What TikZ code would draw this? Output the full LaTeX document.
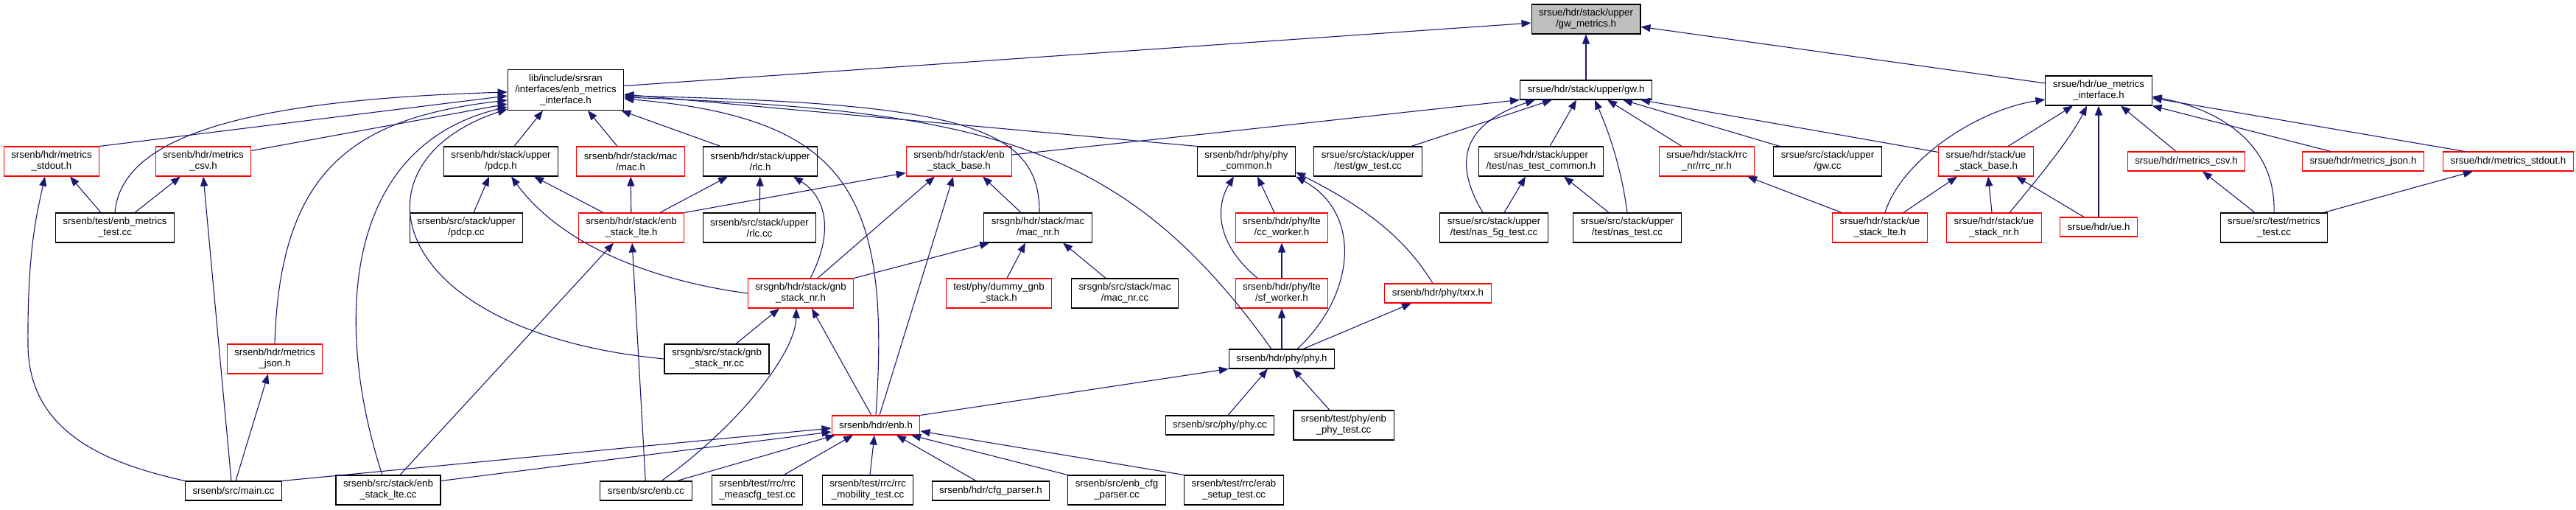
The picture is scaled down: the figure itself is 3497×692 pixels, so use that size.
\documentclass[tikz,border=0pt]{standalone}
\usepackage{fontspec}
\setmainfont{Liberation Sans}
\usetikzlibrary{arrows.meta,calc}
\definecolor{edgeblue}{RGB}{25,25,112}
\definecolor{rootgray}{RGB}{191,191,191}

\begin{document}
\begin{tikzpicture}[
      x=1pt,y=-1pt,
      box/.style={draw=black,line width=1.1pt,fill=white,align=center,inner xsep=10pt,inner ysep=2pt,minimum height=40pt,font=\fontsize{13.3}{15}\selectfont},
      redbox/.style={box,draw=red},
      rootbox/.style={box,fill=rootgray},
      one/.style={minimum height=26pt},
      arrow/.style={-{Triangle[length=13pt,width=10pt]},line width=1.1pt,draw=edgeblue}
    ]
      \useasboundingbox (0,0) rectangle (3497,692);
      % top rows
      \node[rootbox] (gwmetrics) at (2153,26) {srsue/hdr/stack/upper\\/gw\_metrics.h};
      \node[box,minimum height=55pt] (enbif) at (768,122) {lib/include/srsran\hfill\\/interfaces/enb\_metrics\\\_interface.h};
      \node[box,one] (gwh) at (2153,122) {srsue/hdr/stack/upper/gw.h};
      \node[box] (ueif) at (2849,123) {srsue/hdr/ue\_metrics\\\_interface.h};
      % row 3
      \node[redbox] (enbstdout) at (70,219) {srsenb/hdr/metrics\\\_stdout.h};
      \node[redbox] (enbcsv) at (276,219) {srsenb/hdr/metrics\\\_csv.h};
      \node[box] (pdcph) at (680,219) {srsenb/hdr/stack/upper\\/pdcp.h};
      \node[redbox] (mach) at (856,219) {srsenb/hdr/stack/mac\\/mac.h};
      \node[box] (rlch) at (1032,219) {srsenb/hdr/stack/upper\\/rlc.h};
      \node[redbox] (enbbase) at (1302,219) {srsenb/hdr/stack/enb\\\_stack\_base.h};
      \node[box] (phycommon) at (1692,219) {srsenb/hdr/phy/phy\\\_common.h};
      \node[box] (gwtest) at (1857,219) {srsue/src/stack/upper\\/test/gw\_test.cc};
      \node[box] (nascommon) at (2092,219) {srsue/hdr/stack/upper\hfill\\/test/nas\_test\_common.h};
      \node[redbox] (rrcnr) at (2317,219) {srsue/hdr/stack/rrc\\\_nr/rrc\_nr.h};
      \node[box] (gwcc) at (2481,219) {srsue/src/stack/upper\\/gw.cc};
      \node[redbox] (uebase) at (2696,219) {srsue/hdr/stack/ue\\\_stack\_base.h};
      \node[redbox,one] (uecsv) at (2968,219) {srsue/hdr/metrics\_csv.h};
      \node[redbox,one] (uejson) at (3208,219) {srsue/hdr/metrics\_json.h};
      \node[redbox,one] (uestdout) at (3405,219) {srsue/hdr/metrics\_stdout.h};
      % row 4
      \node[box] (enbmetricstest) at (156,309) {srsenb/test/enb\_metrics\\\_test.cc};
      \node[box] (pdcpcc) at (633,309) {srsenb/src/stack/upper\\/pdcp.cc};
      \node[redbox] (enblteh) at (857,309) {srsenb/hdr/stack/enb\\\_stack\_lte.h};
      \node[box] (rlccc) at (1031,309) {srsenb/src/stack/upper\\/rlc.cc};
      \node[box] (macnrh) at (1409,309) {srsgnb/hdr/stack/mac\\/mac\_nr.h};
      \node[redbox] (ccworker) at (1740,309) {srsenb/hdr/phy/lte\\/cc\_worker.h};
      \node[box] (nas5g) at (2028,309) {srsue/src/stack/upper\\/test/nas\_5g\_test.cc};
      \node[box] (nastest) at (2209,309) {srsue/src/stack/upper\\/test/nas\_test.cc};
      \node[redbox] (uelte) at (2552,309) {srsue/hdr/stack/ue\\\_stack\_lte.h};
      \node[redbox] (uenr) at (2707,309) {srsue/hdr/stack/ue\\\_stack\_nr.h};
      \node[redbox,one] (ueh) at (2849,308) {srsue/hdr/ue.h};
      \node[box] (metricstest) at (3087,309) {srsue/src/test/metrics\\\_test.cc};
      % row 5
      \node[redbox] (gnbnrh) at (1087,398) {srsgnb/hdr/stack/gnb\\\_stack\_nr.h};
      \node[redbox] (dummygnb) at (1356,398) {test/phy/dummy\_gnb\\\_stack.h};
      \node[box] (macnrcc) at (1527,398) {srsgnb/src/stack/mac\\/mac\_nr.cc};
      \node[redbox] (sfworker) at (1740,398) {srsenb/hdr/phy/lte\\/sf\_worker.h};
      \node[redbox,one] (txrx) at (1952,398) {srsenb/hdr/phy/txrx.h};
      % row 6
      \node[redbox] (enbjson) at (373,487) {srsenb/hdr/metrics\\\_json.h};
      \node[box] (gnbnrcc) at (973,487) {srsgnb/src/stack/gnb\\\_stack\_nr.cc};
      \node[box,one] (phyh) at (1740,487) {srsenb/hdr/phy/phy.h};
      % row 7
      \node[redbox,one] (enbh) at (1189,577) {srsenb/hdr/enb.h};
      \node[box,one] (phycc) at (1656,577) {srsenb/src/phy/phy.cc};
      \node[box] (enbphytest) at (1824,577) {srsenb/test/phy/enb\\\_phy\_test.cc};
      % bottom row
      \node[box,one] (maincc) at (317,666) {srsenb/src/main.cc};
      \node[box] (enbltecc) at (527,665) {srsenb/src/stack/enb\\\_stack\_lte.cc};
      \node[box,one] (enbcc) at (877,666) {srsenb/src/enb.cc};
      \node[box] (meascfg) at (1028,665) {srsenb/test/rrc/rrc\\\_meascfg\_test.cc};
      \node[box] (mobility) at (1178,665) {srsenb/test/rrc/rrc\\\_mobility\_test.cc};
      \node[box,one] (cfgparser) at (1345,666) {srsenb/hdr/cfg\_parser.h};
      \node[box] (enbcfgcc) at (1516,665) {srsenb/src/enb\_cfg\\\_parser.cc};
      \node[box] (erabtest) at (1675,665) {srsenb/test/rrc/erab\\\_setup\_test.cc};

      % into gw_metrics.h
      \draw[arrow] (enbif) -- (gwmetrics);
      \draw[arrow] (gwh) -- (gwmetrics);
      \draw[arrow] (ueif) -- (gwmetrics);
      % into enb_metrics_interface.h
      \draw[arrow] (enbstdout.north east) -- ($(enbif.west)+(0,8)$);
      \draw[arrow] ($(enbcsv.north east)+(0,6)$) -- ($(enbif.west)+(0,19)$);
      \draw[arrow] (enbmetricstest.north) .. controls (165,180) and (350,135) .. ($(enbif.west)+(0,3)$);
      \draw[arrow] (enbjson.north) .. controls (380,230) and (480,160) .. ($(enbif.west)+(0,14)$);
      \draw[arrow] ($(enbltecc.north)+(-8,0)$) .. controls (455,450) and (460,200) .. ($(enbif.west)+(0,23)$);
      \draw[arrow] (gnbnrcc.west) .. controls (520,450) and (470,220) .. ($(enbif.south west)+(0,-2)$);
      \draw[arrow] ($(pdcph.north)+(18,0)$) -- ($(enbif.south)+(-31,0)$);
      \draw[arrow] ($(mach.north)+(-18,0)$) -- ($(enbif.south)+(30,0)$);
      \draw[arrow] ($(rlch.north)+(-54,0)$) -- ($(enbif.south east)+(-4,0)$);
      \draw[arrow] (phycommon.north west) -- ($(enbif.east)+(0,6)$);
      \draw[arrow] ($(macnrh.north)+(2,0)$) .. controls (1412,170) and (1300,140) .. ($(enbif.east)+(0,8)$);
      \draw[arrow] ($(phyh.north)+(-14,0)$) .. controls (1530,200) and (1350,150) .. ($(enbif.east)+(0,10)$);
      \draw[arrow] (enbh.north) .. controls (1210,260) and (1150,160) .. ($(enbif.east)+(0,12)$);
      % into gw.h
      \draw[arrow] ($(enbbase.east)+(0,-9)$) -- (gwh.south west);
      \draw[arrow] ($(gwtest.north)+(59,0)$) -- ($(gwh.south)+(-46,0)$);
      \draw[arrow] ($(nas5g.north)+(-15,0)$) .. controls (1960,200) and (2010,160) .. ($(gwh.south)+(-69,0)$);
      \draw[arrow] ($(nascommon.north)+(12,0)$) -- ($(gwh.south)+(-13,0)$);
      \draw[arrow] (nastest.north) .. controls (2200,220) and (2180,170) .. ($(gwh.south)+(12,0)$);
      \draw[arrow] ($(rrcnr.north)+(-34,0)$) -- ($(gwh.south)+(29,0)$);
      \draw[arrow] ($(gwcc.north west)+(9,0)$) -- ($(gwh.south)+(50,0)$);
      \draw[arrow] ($(uebase.north west)+(0,8)$) -- ($(gwh.south east)+(-16,0)$);
      \draw[arrow] ($(nas5g.north)+(14,0)$) -- ($(nascommon.south)+(-21,0)$);
      \draw[arrow] ($(nastest.north)+(-25,0)$) -- ($(nascommon.south)+(31,0)$);
      % ue side
      \draw[arrow] ($(uelte.north)+(7,0)$) .. controls (2580,220) and (2680,150) .. ($(ueif.west)+(0,12)$);
      \draw[arrow] ($(uebase.north)+(30,0)$) -- ($(ueif.south)+(-35,0)$);
      \draw[arrow] ($(uenr.north)+(21,0)$) .. controls (2760,250) and (2810,190) .. ($(ueif.south)+(-16,0)$);
      \draw[arrow] (ueh) -- (ueif);
      \draw[arrow] ($(uecsv.north)+(-14,0)$) -- ($(ueif.south)+(30,0)$);
      \draw[arrow] ($(uejson.north)+(-44,0)$) -- (ueif.south east);
      \draw[arrow] ($(uestdout.north)+(-59,0)$) -- ($(ueif.east)+(0,10)$);
      \draw[arrow] (metricstest.north) .. controls (3090,200) and (3020,150) .. ($(ueif.east)+(0,8)$);
      \draw[arrow] ($(metricstest.north)+(-26,0)$) -- ($(uecsv.south)+(22,0)$);
      \draw[arrow] ($(metricstest.north east)+(-6,0)$) -- ($(uestdout.south)+(-48,0)$);
      \draw[arrow] ($(uelte.north)+(-52,0)$) -- ($(rrcnr.south)+(55,0)$);
      \draw[arrow] ($(uelte.north)+(32,0)$) -- ($(uebase.south)+(-39,0)$);
      \draw[arrow] ($(uenr.north)+(-3,0)$) -- ($(uebase.south)+(3,0)$);
      \draw[arrow] ($(ueh.north)+(-20,0)$) -- ($(uebase.south)+(41,0)$);
      % enb metrics
      \draw[arrow] ($(enbmetricstest.north)+(-19,0)$) -- ($(enbstdout.south)+(25,0)$);
      \draw[arrow] ($(enbmetricstest.north)+(27,0)$) -- ($(enbcsv.south)+(-31,0)$);
      \draw[arrow] (maincc.north west) .. controls (150,630) and (40,590) .. (38,470) .. controls (37,340) and (50,290) .. ($(enbstdout.south)+(-9,0)$);
      \draw[arrow] ($(maincc.north)+(-3,0)$) -- (enbcsv.south);
      \draw[arrow] ($(maincc.north)+(3,0)$) -- ($(enbjson.south)+(-9,0)$);
      \draw[arrow] (maincc.north east) -- ($(enbh.west)+(0,4)$);
      % enb stack
      \draw[arrow] ($(enbltecc.north east)+(0,8)$) -- ($(enbh.west)+(0,9)$);
      \draw[arrow] ($(enbltecc.north)+(16,0)$) -- ($(enblteh.south)+(-24,0)$);
      \draw[arrow] (enbcc) -- (enblteh);
      \draw[arrow] ($(enbcc.north)+(21,0)$) .. controls (1000,580) and (1080,480) .. ($(gnbnrh.south)+(-6,0)$);
      \draw[arrow] ($(enbcc.north)+(42,0)$) -- ($(enbh.south west)+(5,0)$);
      \draw[arrow] ($(meascfg.north)+(36,0)$) -- ($(enbh.south)+(-31,0)$);
      \draw[arrow] ($(mobility.north)+(3,0)$) -- ($(enbh.south)+(-2,0)$);
      \draw[arrow] ($(cfgparser.north)+(-20,0)$) -- ($(enbh.south)+(28,0)$);
      \draw[arrow] (enbcfgcc.north west) -- ($(enbh.south)+(48,0)$);
      \draw[arrow] (erabtest.north west) -- ($(enbh.east)+(0,8)$);
      \draw[arrow] (enbh.north east) -- (phyh.south west);
      \draw[arrow] ($(enbh.north)+(-6,0)$) -- ($(gnbnrh.south)+(15,0)$);
      \draw[arrow] ($(enbh.north)+(5,0)$) -- ($(enbbase.south)+(-8,0)$);
      \draw[arrow] ($(gnbnrcc.north)+(26,0)$) -- ($(gnbnrh.south)+(-29,0)$);
      \draw[arrow] (gnbnrh.west) .. controls (880,380) and (760,330) .. ($(pdcph.south)+(14,0)$);
      \draw[arrow] ($(gnbnrh.north)+(13,0)$) .. controls (1130,320) and (1125,270) .. ($(rlch.south)+(45,0)$);
      \draw[arrow] ($(gnbnrh.north)+(23,0)$) -- ($(enbbase.south)+(-33,0)$);
      \draw[arrow] (gnbnrh.north east) -- ($(macnrh.south west)+(8,0)$);
      \draw[arrow] ($(pdcpcc.north)+(10,0)$) -- ($(pdcph.south)+(-16,0)$);
      \draw[arrow] ($(enblteh.north)+(-38,0)$) -- ($(pdcph.south)+(45,0)$);
      \draw[arrow] (enblteh) -- (mach);
      \draw[arrow] ($(enblteh.north)+(39,0)$) -- ($(rlch.south)+(-44,0)$);
      \draw[arrow] (enblteh.north east) -- ($(enbbase.south west)+(0,-5)$);
      \draw[arrow] (rlccc) -- (rlch);
      \draw[arrow] ($(macnrh.north)+(-23,0)$) -- ($(enbbase.south)+(32,0)$);
      \draw[arrow] ($(dummygnb.north)+(11,0)$) -- ($(macnrh.south)+(-17,0)$);
      \draw[arrow] ($(macnrcc.north)+(-26,0)$) -- ($(macnrh.south)+(34,0)$);
      % phy
      \draw[arrow] ($(ccworker.north)+(-10,0)$) -- ($(phycommon.south)+(15,0)$);
      \draw[arrow] ($(sfworker.north)+(-33,0)$) .. controls (1650,330) and (1650,280) .. ($(phycommon.south)+(-17,0)$);
      \draw[arrow] (sfworker) -- (ccworker);
      \draw[arrow] (phyh) -- (sfworker);
      \draw[arrow] ($(phyh.north)+(21,0)$) .. controls (1840,400) and (1850,290) .. (phycommon.south east);
      \draw[arrow] ($(phyh.north)+(29,0)$) -- ($(txrx.south)+(-36,0)$);
      \draw[arrow] ($(txrx.north)+(-7,0)$) .. controls (1900,310) and (1830,270) .. ($(phycommon.south east)+(0,-6)$);
      \draw[arrow] ($(phycc.north)+(11,0)$) -- ($(phyh.south)+(-19,0)$);
      \draw[arrow] ($(enbphytest.north)+(-19,0)$) -- ($(phyh.south)+(15,0)$);
    \end{tikzpicture}
\end{document}
